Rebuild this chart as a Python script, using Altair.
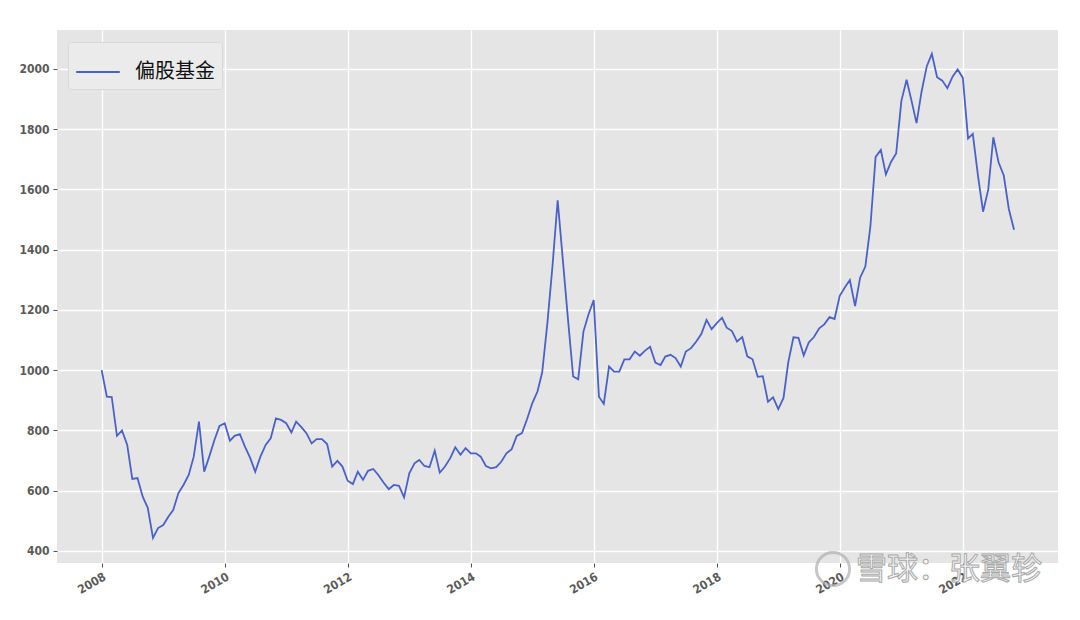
import altair as alt
import pandas as pd

series_name = "偏股基金"
start_month = "2008-01-01"  # first point is the month-end before this (base 1000 at end of 2007)

values = [
    1000, 912, 911, 782, 800, 752, 639, 642, 580, 543, 443, 476,
    486, 514, 536, 592, 619, 652, 713, 829, 663, 713, 768, 815,
    824, 766, 782, 788, 746, 709, 663, 713, 752, 774, 840, 835,
    824, 793, 829, 811, 791, 757, 771, 771, 755, 680, 699, 680,
    633, 622, 663, 636, 666, 672, 652, 627, 605, 619, 616, 578,
    658, 691, 702, 682, 678, 733, 660, 680, 708, 744, 719, 741,
    724, 724, 713, 682, 674, 678, 696, 724, 738, 782, 791, 837,
    890, 929, 992, 1156, 1344, 1564, 1370, 1170, 979, 970, 1128, 1185,
    1233, 912, 888, 1012, 995, 995, 1036, 1036, 1062, 1048, 1065, 1078,
    1025, 1017, 1045, 1051, 1040, 1012, 1062, 1073, 1095, 1120, 1167, 1136,
    1156, 1174, 1141, 1130, 1095, 1110, 1046, 1036, 978, 980, 895, 910,
    871, 908, 1025, 1109, 1107, 1049, 1092, 1110, 1139, 1152, 1176, 1170,
    1247, 1275, 1299, 1213, 1307, 1344, 1477, 1708, 1731, 1650, 1692, 1719,
    1894, 1964, 1897, 1820, 1925, 2009, 2050, 1972, 1961, 1936, 1974, 1998,
    1970, 1769, 1784, 1645, 1526, 1600, 1773, 1690, 1646, 1535, 1466,
]

y_ticks = [400, 600, 800, 1000, 1200, 1400, 1600, 1800, 2000]
x_tick_years = [2008, 2010, 2012, 2014, 2016, 2018, 2020, 2022]

dates = pd.date_range(start_month, periods=len(values), freq="MS") - pd.Timedelta(days=1)
df = pd.DataFrame({"date": dates.strftime("%Y-%m-%dT00:00:00"), "value": values, "series": series_name})

LABEL_FONT = "DejaVu Sans Condensed, Liberation Sans Narrow, sans-serif"

x_enc = alt.X(
    "date:T",
    scale=alt.Scale(domain=[alt.DateTime(year=2007, month=4, date=10),
                            alt.DateTime(year=2023, month=7, date=19)]),
    axis=alt.Axis(
        title=None,
        values=[alt.DateTime(year=y, month=1, date=1) for y in x_tick_years],
        format="%Y",
        labelAngle=-30,
        labelAlign="right",
        labelBaseline="top",
        labelFont=LABEL_FONT,
        labelFontSize=12,
        labelFontWeight="bold",
        labelColor="#5a5a5a",
        labelPadding=4,
        tickColor="#555555",
        tickSize=4,
        grid=True,
        gridColor="white",
        gridWidth=1.3,
        domain=False,
    ),
)
y_enc = alt.Y(
    "value:Q",
    scale=alt.Scale(domain=[360, 2129], nice=False, zero=False),
    axis=alt.Axis(
        title=None,
        values=y_ticks,
        format="d",
        labelFont=LABEL_FONT,
        labelFontSize=12,
        labelFontWeight="bold",
        labelColor="#5a5a5a",
        labelPadding=4,
        tickColor="#555555",
        tickSize=4,
        grid=True,
        gridColor="white",
        gridWidth=1.3,
        domain=False,
    ),
)

line = alt.Chart(df).mark_line(strokeWidth=1.8).encode(
    x=x_enc,
    y=y_enc,
    color=alt.Color(
        "series:N",
        scale=alt.Scale(range=["#4a62c8"]),
        legend=alt.Legend(
            title=None,
            orient="none",
            legendX=11,
            legendY=12,
            symbolType="stroke",
            symbolSize=1900,
            symbolStrokeWidth=2,
            labelFontSize=20,
            labelFont="Noto Sans CJK SC",
            labelColor="#111111",
            labelOffset=14,
            fillColor="#EBEBEB",
            strokeColor="#D8D8D8",
            padding=7,
            cornerRadius=3,
        ),
    ),
)

wm_text = ["雪球：张翼轸"]
watermark = alt.Chart(pd.DataFrame({"t": wm_text})).mark_text(
    font="Noto Sans CJK SC",
    fontSize=31,
    align="left",
    baseline="middle",
    fill="#f6f6f6",
    stroke="#a8a8a8",
    strokeWidth=1,
    clip=False,
).encode(text="t:N", x=alt.value(799), y=alt.value(540))

logo = alt.Chart(pd.DataFrame({"t": ["logo"]})).mark_point(
    shape="circle", size=1100, filled=False, stroke="#b0b0b0", strokeWidth=3, clip=False
).encode(x=alt.value(776), y=alt.value(539))

chart = alt.layer(line, logo, watermark).properties(
    width=1001,
    height=533,
    autosize=alt.AutoSizeParams(type="none"),
    padding={"left": 49, "top": 22, "right": 14, "bottom": 45},
    background="white",
).configure_view(fill="#E5E5E5", strokeWidth=0)

chart.save("out.html", embed_options={"renderer": "svg", "actions": False})
